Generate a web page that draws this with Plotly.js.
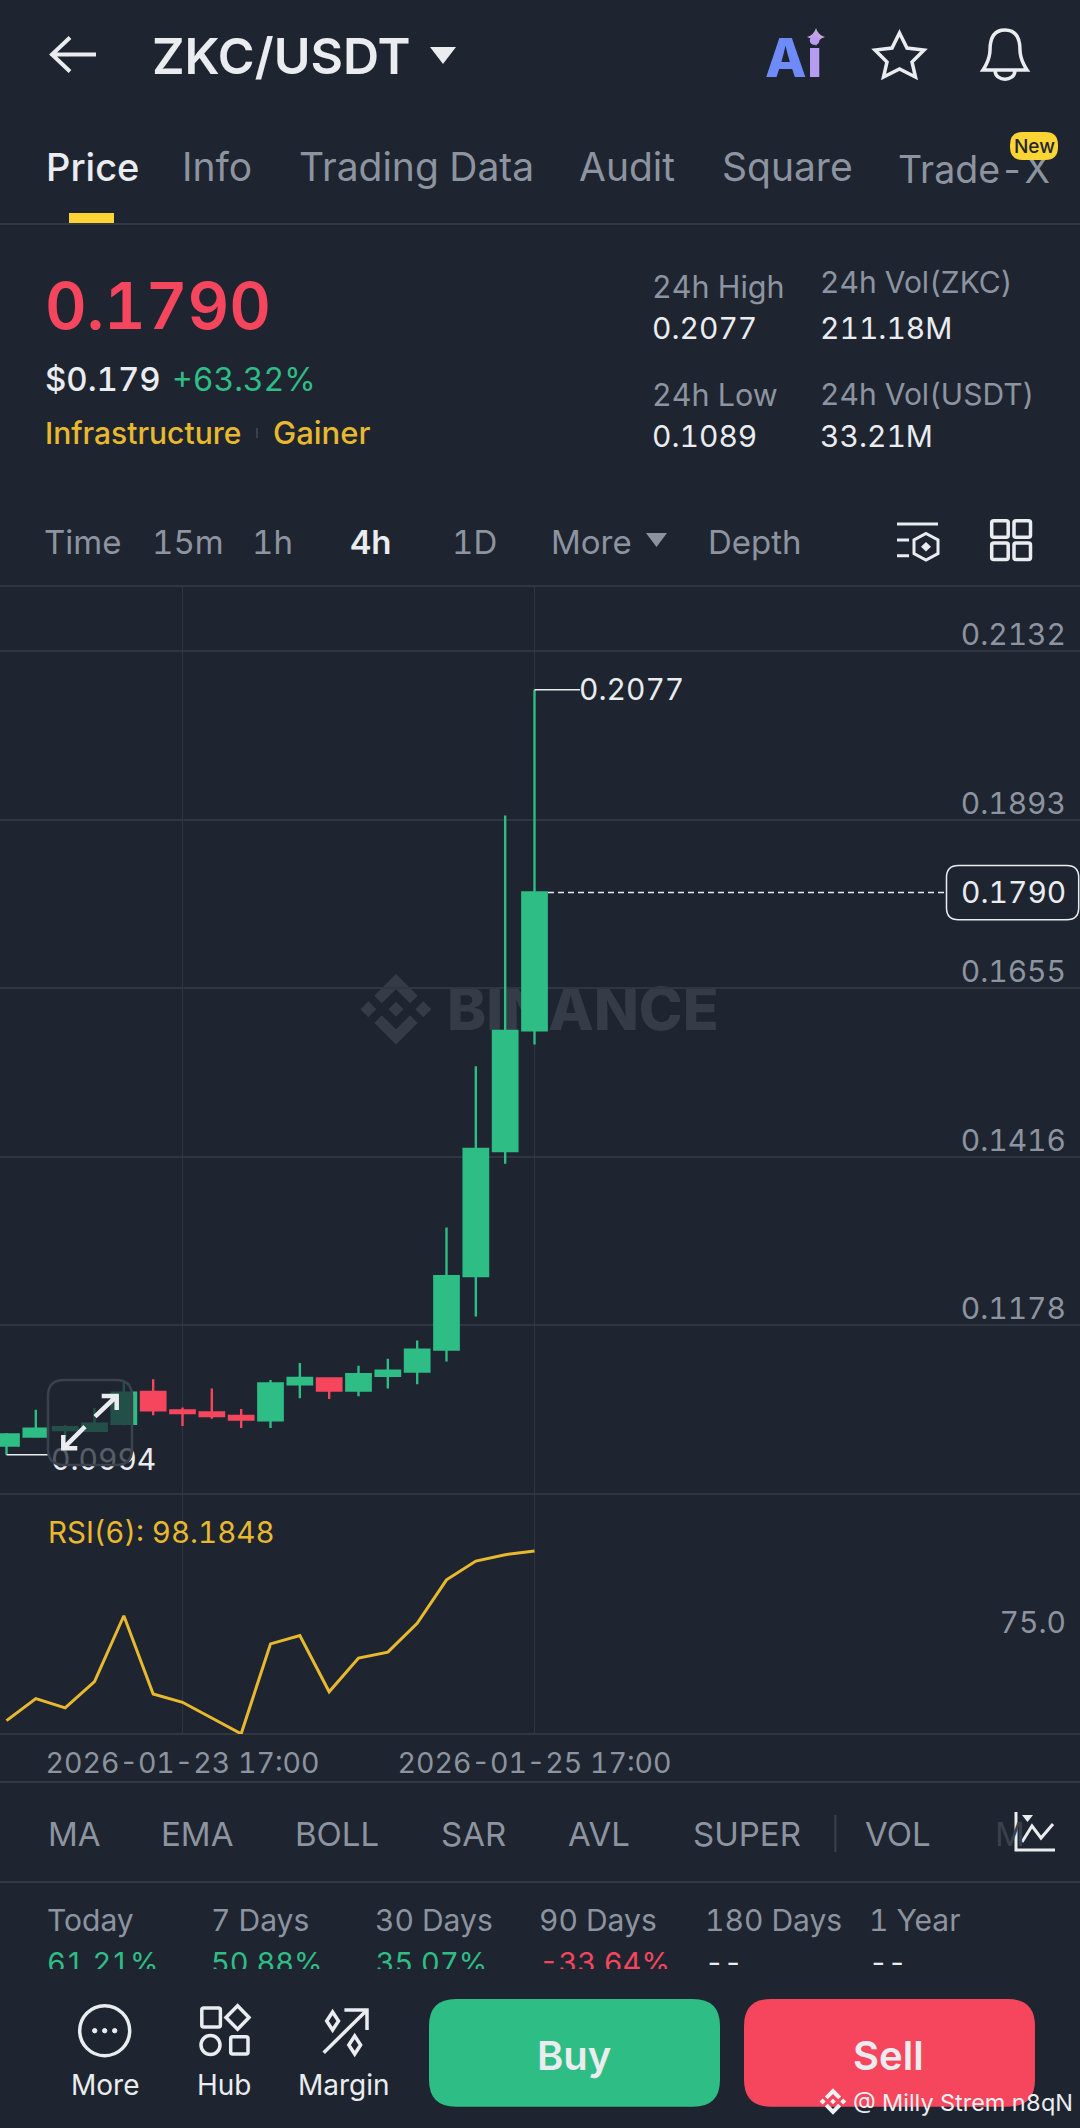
<!DOCTYPE html>
<html>
<head>
<meta charset="utf-8">
<script src="https://cdn.plot.ly/plotly-3.0.1.min.js"></script>
<style>html,body{margin:0;padding:0;background:#1e2530}#chart{width:1080px;height:2128px}
svg text{font-feature-settings:"tnum" 1;font-variant-numeric:tabular-nums}</style>
</head>
<body>
<div id="chart"></div>
<script>
// ---- chart data ----
const times = ['2026-01-22 17:00','2026-01-22 21:00','2026-01-23 01:00','2026-01-23 05:00','2026-01-23 09:00','2026-01-23 13:00','2026-01-23 17:00','2026-01-23 21:00','2026-01-24 01:00','2026-01-24 05:00','2026-01-24 09:00','2026-01-24 13:00','2026-01-24 17:00','2026-01-24 21:00','2026-01-25 01:00','2026-01-25 05:00','2026-01-25 09:00','2026-01-25 13:00','2026-01-25 17:00'];
const opens  = [0.1007,0.1020,0.1029,0.1028,0.1038,0.1083,0.1057,0.1054,0.1049,0.1043,0.1094,0.1102,0.1085,0.1106,0.1112,0.1143,0.1247,0.1424,0.1595];
const highs  = [0.1025,0.1058,0.1036,0.1060,0.1096,0.1101,0.1061,0.1088,0.1059,0.1100,0.1124,0.1104,0.1120,0.1130,0.1156,0.1316,0.1544,0.1899,0.2077];
const lows   = [0.0994,0.1020,0.1019,0.1028,0.1036,0.1050,0.1035,0.1045,0.1032,0.1032,0.1074,0.1073,0.1077,0.1088,0.1094,0.1126,0.1190,0.1406,0.1575];
const closes = [0.1023,0.1031,0.1033,0.1038,0.1082,0.1057,0.1053,0.1049,0.1044,0.1095,0.1103,0.1085,0.1108,0.1113,0.1143,0.1247,0.1427,0.1594,0.1790];
const rsi6   = [52.9,58.8,56.3,63.3,80.9,60.0,57.8,53.5,49.4,73.4,75.6,60.6,69.6,71.2,78.9,90.5,95.5,97.2,98.1848];
const priceTicks = [0.2132,0.1893,0.1655,0.1416,0.1178,0.0939];
const priceTickLabels = ['0.2132','0.1893','0.1655','0.1416','0.1178','0.0939'];
const rsiTicks = [75];
const rsiTickLabels = ['75.0'];
const dateTicks = ['2026-01-23 17:00','2026-01-25 17:00'];
const lastPrice = 0.1790, peakPrice = 0.2077, floorPrice = 0.0994;
const tabs = ['Price','Info','Trading Data','Audit','Square','Trade-X'];
const intervals = ['Time','15m','1h','4h','1D','More','Depth'];
const indicators = ['MA','EMA','BOLL','SAR','AVL','SUPER','VOL','M'];
const periods = ['Today','7 Days','30 Days','90 Days','180 Days','1 Year'];
const periodValues = ['61.21%','50.88%','35.07%','-33.64%','--','--'];

// ---- page geometry ----
const W = 1080, H = 2128, FONT = 'Inter, "Noto Sans", sans-serif';
const BG = '#1e2530', GRID = '#2f3641', GREY = '#8d94a0', WHITE = '#eaecef', GREEN = '#2ebd85', RED = '#f6465d', YEL = '#e8b92f';
const fx = x => x / W, fy = y => 1 - y / H;
const pth = s => s.replace(/(-?[\d.]+)[ ,](-?[\d.]+)/g, (m, a, b) => (fx(+a)).toFixed(6) + ' ' + (fy(+b)).toFixed(6));
const rrp = (x0, y0, x1, y1, r) => `M${x0+r} ${y0} L${x1-r} ${y0} Q${x1} ${y0} ${x1} ${y0+r} L${x1} ${y1-r} Q${x1} ${y1} ${x1-r} ${y1} L${x0+r} ${y1} Q${x0} ${y1} ${x0} ${y1-r} L${x0} ${y0+r} Q${x0} ${y0} ${x0+r} ${y0} Z`;

const ann = [], shp = [];
const t = (x, y, text, size, color, weight, anchor) => ann.push({xref:'paper', yref:'paper', x:fx(anchor ? x : x - 1.5), y:fy(y), text, showarrow:false, xanchor:anchor||'left', yanchor:'middle', borderpad:0, borderwidth:0, font:{family:FONT, size, color, weight:weight||400}});
const stroke = (d, color, w, fill) => shp.push({type:'path', xref:'paper', yref:'paper', path:pth(d), line:{color:color||WHITE, width:w===undefined?3.5:w}, fillcolor:fill||'rgba(0,0,0,0)', layer:'above'});
const fillp = (d, color, layer) => shp.push({type:'path', xref:'paper', yref:'paper', path:pth(d), line:{width:0}, fillcolor:color, layer:layer||'above'});
const rule = (x0, y0, x1, y1, color, w) => shp.push({type:'line', xref:'paper', yref:'paper', x0:fx(x0), y0:fy(y0), x1:fx(x1), y1:fy(y1), line:{color:color||GRID, width:w||2}, layer:'below'});
const circ = (cx, cy, r, color, w, fill) => shp.push({type:'circle', xref:'paper', yref:'paper', x0:fx(cx-r), x1:fx(cx+r), y0:fy(cy+r), y1:fy(cy-r), line:{color:color, width:w}, fillcolor:fill||'rgba(0,0,0,0)', layer:'above'});
const lbl = (x0, y0, x1, y1, text, size, color, weight, layer) => shp.push({type:'rect', xref:'paper', yref:'paper', x0:fx(x0-4), x1:fx(x1), y0:fy(y1), y1:fy(y0), line:{width:0}, fillcolor:'rgba(0,0,0,0)', layer:layer||'above', label:{text, padding:0, textposition:'middle left', font:{family:FONT, size, color, weight:weight||400}}});
const bnb = (cx, cy, s, color, layer) => {
  const P = (a, b) => `${cx+a*s} ${cy+b*s}`;
  fillp(`M${P(0,-35.3)} L${P(21.7,-13.6)} L${P(14,-6)} L${P(0,-20)} L${P(-14.3,-6)} L${P(-21.7,-13.6)} Z`, color, layer);
  fillp(`M${P(0,35.3)} L${P(21.7,13.6)} L${P(14,6)} L${P(0,20)} L${P(-14.3,6)} L${P(-21.7,13.6)} Z`, color, layer);
  fillp(`M${P(0,-7.5)} L${P(7.5,0)} L${P(0,7.5)} L${P(-7.5,0)} Z`, color, layer);
  fillp(`M${P(-27.7,-8)} L${P(-19.7,0)} L${P(-27.7,8)} L${P(-35.7,0)} Z`, color, layer);
  fillp(`M${P(27.3,-8)} L${P(35.3,0)} L${P(27.3,8)} L${P(19.3,0)} Z`, color, layer);
};

// ---- header ----
stroke('M96 54.5 L52 54.5 M70 37.5 L52 54.5 L70 71.5', WHITE, 4);
t(153, 56, 'ZKC/USDT', 50, WHITE, 600);
fillp('M430 47 L456 47 L443 64 Z', WHITE);
t(766, 58, 'A', 54, '#6f8af9', 800);
t(808, 58, 'i', 54, '#b79df2', 800);
fillp('M816 28 Q818 35 825 37 Q818 39 816 46 Q814 39 807 37 Q814 35 816 28 Z', '#c9a2e6');
stroke('M899.5 33 L907 48 L924 50 L912 62 L915.5 77 L899.5 69 L883.5 77 L887 62 L875 50 L892 48 Z', WHITE, 3.5);
stroke('M983 70 C983 70 990 60 990 50 C990 37 995 30 1005 30 C1015 30 1020 37 1020 50 C1020 60 1027 70 1027 70 Z', WHITE, 3.5);
stroke('M995 71 C996 82 1014 82 1015 71', WHITE, 3.5);

// ---- tabs ----
const tabX = [47, 183.5, 300, 580, 723];
tabs.slice(0, 5).forEach((s, i) => t(tabX[i], 167, s, i === 0 ? 38 : 39, i === 0 ? WHITE : GREY, i === 0 ? 500 : 400));
lbl(899, 145, 1060, 190, tabs[5], 37.5, GREY);
fillp(rrp(1010, 132, 1058, 160, 13), '#fcd535');
t(1034, 146, 'New', 19, '#1e2530', 500, 'center');
fillp('M69 213 L114 213 L114 223 L69 223 Z', '#fcd535');
rule(0, 224, W, 224, '#333a45', 2);

// ---- summary ----
t(46, 306, '0.1790', 64.5, RED, 600);
t(46, 379, '$0.179', 33, WHITE, 500);
t(173.5, 379, '+63.32%', 32, GREEN, 400);
t(46, 432.6, 'Infrastructure', 30, YEL, 500);
t(274, 432.6, 'Gainer', 31, YEL, 500);
rule(257, 428, 257, 438, '#3a414c', 2);
t(653, 286, '24h High', 30.5, GREY);
t(653, 328, '0.2077', 30, WHITE);
t(821.5, 282, '24h Vol(ZKC)', 30, GREY);
t(821.5, 328, '211.18M', 30, WHITE);
t(653, 394, '24h Low', 30.5, GREY);
t(653, 436, '0.1089', 30, WHITE);
t(821.5, 394, '24h Vol(USDT)', 30, GREY);
t(821.5, 436, '33.21M', 30, WHITE);

// ---- interval row ----
const intX = [45.5, 153, 253, 351, 453, 552, 709];
intervals.forEach((s, i) => t(intX[i], 542, s, 33, i === 3 ? WHITE : GREY, i === 3 ? 600 : 400));
fillp('M646 533 L667 533 L656.5 547 Z', GREY);
stroke('M897 524 L938 524 M897 540 L909 540 M897 555.7 L909 555.7', WHITE, 3);
stroke('M926 533.5 L938 540 L938 553.5 L926 560 L914 553.5 L914 540 Z', WHITE, 3);
fillp('M926 542 L931 546.8 L926 551.5 L921 546.8 Z', WHITE);
[[991.7,520.7],[1014,520.7],[991.7,543],[1014,543]].forEach(p => stroke(rrp(p[0], p[1], p[0]+16.5, p[1]+16.5, 2), WHITE, 3.5));
rule(0, 586, W, 586, GRID, 2);

// ---- watermark under the candles ----
bnb(396, 1009.3, 1, '#353c47', 'below');
lbl(448, 981, 730, 1031, 'BINANCE', 59, '#353c47', 800, 'below');

// ---- price markers ----
shp.push({type:'line', xref:'paper', yref:'y', x0:fx(534.5), x1:fx(580), y0:peakPrice, y1:peakPrice, line:{color:WHITE, width:1.5}, layer:'above'});
t(580, 688.5, String(peakPrice.toFixed(4)), 30, WHITE);
shp.push({type:'line', xref:'paper', yref:'y', x0:fx(548), x1:fx(946.5), y0:lastPrice, y1:lastPrice, line:{color:WHITE, width:1.5, dash:'6px,4px'}, layer:'above'});
stroke(rrp(946.5, 865.4, 1078.7, 919.7, 12), WHITE, 1.5, BG);
t(1065.5, 892.5, lastPrice.toFixed(4), 30, WHITE, 400, 'right');
shp.push({type:'line', xref:'paper', yref:'y', x0:fx(6.5), x1:fx(48), y0:floorPrice, y1:floorPrice, line:{color:WHITE, width:1.5}, layer:'above'});
lbl(52, 1440, 170, 1476, floorPrice.toFixed(4), 30, WHITE);

// ---- expand button over the chart ----
shp.push({type:'path', xref:'paper', yref:'paper', path:pth(rrp(48, 1380, 132, 1465, 16)), line:{color:'#3b424d', width:2.5}, fillcolor:'rgba(30,37,48,0.72)', layer:'above'});
stroke('M95 1416.7 L116.7 1396 M101.7 1396 L116.7 1396 L116.7 1410', WHITE, 4.5);
stroke('M85 1426.7 L63.3 1448.3 M63.3 1435 L63.3 1448.3 L77.3 1448.3', WHITE, 4.5);

// ---- RSI ----
t(49, 1531.7, 'RSI(6): 98.1848', 29.5, YEL);
rule(0, 1494, W, 1494, GRID, 2);
rule(0, 1734, W, 1734, GRID, 2);
rule(0, 1782, W, 1782, '#333a45', 2);
rule(0, 1882, W, 1882, '#333a45', 2);

// ---- indicator row ----
const indX = [49.6, 162, 296, 443, 569.6, 694, 866];
indicators.slice(0, 7).forEach((s, i) => t(indX[i], 1834, s, 33, GREY));
t(996, 1834, indicators[7], 33, '#3a414c');
rule(835.4, 1815, 835.4, 1852, '#3a414c', 2);
stroke('M1016 1812 L1016 1850 L1055 1850', WHITE, 3);
stroke('M1022 1842 L1032 1826 L1041 1838 L1053 1824', WHITE, 3);
fillp('M1022 1815 L1033 1815 L1027.5 1822 Z', WHITE);

// ---- period row, values cut off by the bottom bar ----
const perX = [48, 212, 376.7, 540.6, 706, 870];
periods.forEach((s, i) => t(perX[i], 1920, s, 30, GREY));
periodValues.forEach((s, i) => lbl(perX[i], 1941, perX[i] + 150, 1981, s, 29, s.startsWith('-3') ? RED : (s === '--' ? WHITE : GREEN)));
fillp('M0 1969 L1080 1969 L1080 2128 L0 2128 Z', BG);

// ---- bottom bar ----
circ(104.7, 2030.7, 25, WHITE, 3.5);
[94.7, 104.7, 114.7].forEach(x => circ(x, 2030.7, 2.2, WHITE, 1, WHITE));
t(104.7, 2085, 'More', 28, WHITE, 400, 'center');
stroke(rrp(201.8, 2008, 220.4, 2027, 2), WHITE, 3.5);
stroke('M237.6 2005.7 L249 2017.5 L237.6 2029.3 L226 2017.5 Z', WHITE, 3.5);
circ(210.5, 2045, 9.5, WHITE, 3.5);
stroke(rrp(230.7, 2036.7, 248, 2054, 2), WHITE, 3.5);
t(224.5, 2085, 'Hub', 28, WHITE, 400, 'center');
stroke('M323.7 2052.7 L367 2010 M344.4 2010 L367 2010 L367 2030', WHITE, 3.5);
stroke('M332.6 2012 L338.5 2021 L332.6 2030 L326.7 2021 Z', WHITE, 3.5);
stroke('M354.7 2036 L360.6 2045 L354.7 2054 L348.8 2045 Z', WHITE, 3.5);
t(344.4, 2085, 'Margin', 28, WHITE, 400, 'center');
fillp(rrp(429, 1999, 720, 2106.7, 27), GREEN);
t(574, 2055, 'Buy', 40, WHITE, 600, 'center');
fillp(rrp(744, 1999, 1035, 2106.7, 27), RED);
t(888.4, 2055, 'Sell', 40, WHITE, 600, 'center');
bnb(833, 2101.5, 0.375, '#f2f3f5');
t(854, 2102.7, '@ Milly Strem n8qN', 23.5, '#eceef1', 400);

// ---- traces ----
const candles = {type:'candlestick', x:times, open:opens, high:highs, low:lows, close:closes, xaxis:'x', yaxis:'y',
  increasing:{line:{color:GREEN, width:2.4}, fillcolor:GREEN}, decreasing:{line:{color:RED, width:2.4}, fillcolor:RED}, whiskerwidth:0, hoverinfo:'skip', showlegend:false};
const rsi = {type:'scatter', mode:'lines', x:times, y:rsi6, xaxis:'x', yaxis:'y2', line:{color:YEL, width:3}, hoverinfo:'skip', showlegend:false};

const tickFont = {family:FONT, size:30, color:GREY};
const layout = {
  width:W, height:H, margin:{l:0, r:0, t:0, b:0}, paper_bgcolor:BG, plot_bgcolor:BG, showlegend:false, boxgap:0.17, boxgroupgap:0,
  xaxis:{type:'date', domain:[0,1], range:['2026-01-22 16:06:49','2026-01-28 19:23:00'], anchor:'y2', tickmode:'array', tickvals:dateTicks, ticktext:dateTicks, tickfont:{family:FONT, size:28.5, color:GREY}, ticks:'', ticklen:0, ticklabelstandoff:9, gridcolor:GRID, gridwidth:1.5, showgrid:true, zeroline:false, showline:false, rangeslider:{visible:false}, fixedrange:true},
  yaxis:{domain:[fy(1493.7), fy(587)], range:[0.0939, 0.22225], side:'right', tickmode:'array', tickvals:priceTicks, ticktext:priceTickLabels, tickfont:tickFont, ticklabelposition:'inside', ticks:'', ticklen:0, ticklabelstandoff:11, ticklabelshift:-16, gridcolor:GRID, gridwidth:2, showgrid:true, zeroline:false, showline:false, fixedrange:true},
  yaxis2:{domain:[fy(1734), fy(1494)], range:[49.34, 113.4], side:'right', tickmode:'array', tickvals:rsiTicks, ticktext:rsiTickLabels, tickfont:tickFont, ticklabelposition:'inside', ticks:'', ticklen:0, ticklabelstandoff:11, ticklabelshift:-15, showgrid:false, zeroline:false, showline:false, fixedrange:true},
  annotations:ann, shapes:shp
};
Plotly.newPlot('chart', [candles, rsi], layout, {staticPlot:true, displayModeBar:false});
</script>
</body>
</html>
